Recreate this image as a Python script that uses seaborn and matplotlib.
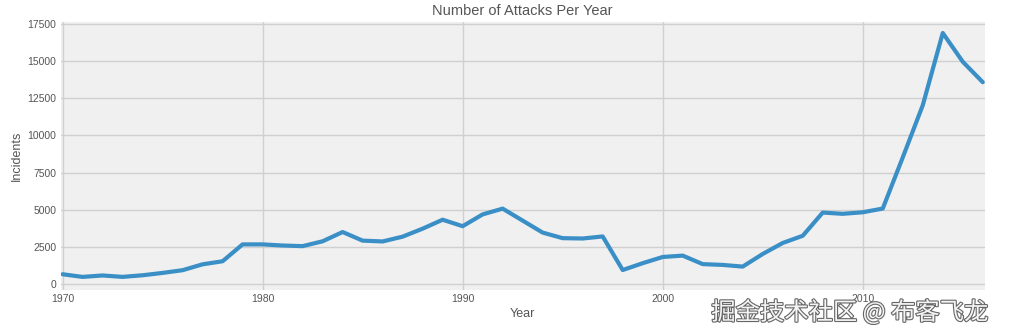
import matplotlib
matplotlib.use("Agg")
import matplotlib.pyplot as plt
import matplotlib.patheffects as pe
import seaborn as sns
import pandas as pd

years = [1970, 1971, 1972, 1973, 1974, 1975, 1976, 1977, 1978, 1979,
         1980, 1981, 1982, 1983, 1984, 1985, 1986, 1987, 1988, 1989,
         1990, 1991, 1992, 1994, 1995, 1996, 1997, 1998, 1999,
         2000, 2001, 2002, 2003, 2004, 2005, 2006, 2007, 2008, 2009,
         2010, 2011, 2012, 2013, 2014, 2015, 2016]
incidents = [651, 471, 568, 473, 581, 740, 923, 1319, 1526, 2662,
             2662, 2586, 2544, 2870, 3495, 2915, 2860, 3183, 3721, 4324,
             3887, 4683, 5071, 3456, 3081, 3058, 3197, 934, 1395,
             1814, 1906, 1333, 1278, 1166, 2017, 2758, 3242, 4805, 4721,
             4826, 5076, 8522, 12036, 16903, 14965, 13587]
title = "Number of Attacks Per Year"
watermark = "掘金技术社区 @ 布客飞龙"

df = pd.DataFrame({"Year": years, "Incidents": incidents})

sns.set_theme(style="whitegrid")
plt.rcParams["font.family"] = ["Liberation Sans", "Noto Sans CJK SC", "DejaVu Sans"]

fig = plt.figure(figsize=(10.09, 3.32), dpi=100, facecolor="white")
ax = fig.add_axes([0.060, 0.127, 0.916, 0.807])
ax.set_facecolor("#f0f0f0")

sns.lineplot(data=df, x="Year", y="Incidents", ax=ax, color="#3b8fc7", linewidth=3)

ax.set_xlim(1969.9, 2016.1)
ax.set_xticks([1970, 1980, 1990, 2000, 2010])
ax.set_yticks([0, 2500, 5000, 7500, 10000, 12500, 15000, 17500])
ax.set_ylim(-400, 17650)
ax.grid(True, color="#d0d0d0", linewidth=1)
for s in ax.spines.values():
    s.set_visible(False)
ax.tick_params(axis="both", labelsize=7.5, colors="#555555", length=0, pad=3)
ax.set_xlabel("Year", fontsize=9, color="#555555", labelpad=3)
ax.set_ylabel("Incidents", fontsize=9, color="#555555", labelpad=3)
ax.set_title(title, fontsize=10.5, color="#555555", pad=5)

fig.text(0.705, 0.058, watermark, fontsize=17.5, color="#f4f4f4",
         family=["Noto Sans CJK SC", "DejaVu Sans"], ha="left", va="center",
         path_effects=[pe.withStroke(linewidth=1.6, foreground="#666666")])

fig.savefig("out.png", dpi=100, facecolor="white")
